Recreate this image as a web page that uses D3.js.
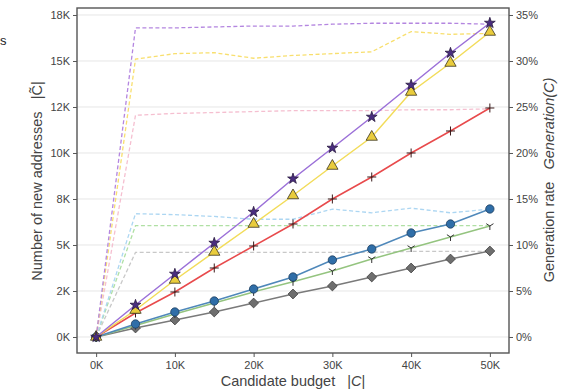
<!DOCTYPE html>
<html>
<head>
<meta charset="utf-8">
<script src="https://cdn.jsdelivr.net/npm/d3@7"></script>
<style>
  html, body { margin: 0; padding: 0; background: #fff; }
  svg { display: block; font-family: "Liberation Sans", Arial, sans-serif; }
</style>
</head>
<body>
<svg id="chart" width="569" height="391"></svg>
<script>
// ---------- data ----------
const budgets = [0, 5000, 10000, 15000, 20000, 25000, 30000, 35000, 40000, 45000, 50000];
const xTickValues = [0, 10000, 20000, 30000, 40000, 50000];
const xTickLabels = ["0K", "10K", "20K", "30K", "40K", "50K"];
const yTickValues = [0, 2500, 5000, 7500, 10000, 12500, 15000, 17500];
const yTickLabels = ["0K", "2K", "5K", "8K", "10K", "12K", "15K", "18K"];
const rTickValues = [0, 5, 10, 15, 20, 25, 30, 35];
const rTickLabels = ["0%", "5%", "10%", "15%", "20%", "25%", "30%", "35%"];

// new addresses (left axis)
const purpleNew = [0, 1739, 3424, 5109, 6794, 8600, 10272, 11957, 13696, 15435, 17065];
const yellowNew = [0, 1467, 3098, 4620, 6141, 7690, 9293, 10870, 13315, 14891, 16576];
const redNew    = [0, 1304, 2446, 3750, 4946, 6141, 7500, 8696, 10000, 11196, 12446];
const blueNew   = [0, 707, 1359, 1957, 2609, 3261, 4185, 4783, 5652, 6141, 6957];
const greenNew  = [0, 620, 1250, 1850, 2450, 3000, 3587, 4239, 4837, 5435, 6033];
const grayNew   = [0, 489, 924, 1359, 1848, 2337, 2772, 3261, 3750, 4239, 4674];

// generation rate % (right axis)
const purpleRate = [0, 33.6, 33.6, 33.7, 33.8, 33.8, 34.0, 34.1, 34.1, 34.1, 34.0];
const yellowRate = [0, 30.2, 30.8, 30.9, 30.3, 30.6, 30.8, 31.0, 33.2, 32.9, 33.0];
const pinkRate   = [0, 24.1, 24.3, 24.4, 24.5, 24.6, 24.6, 24.6, 24.7, 24.7, 24.8];
const lblueRate  = [0, 13.4, 13.3, 13.1, 12.8, 12.8, 13.9, 13.5, 14.0, 13.5, 13.9];
const lgreenRate = [0, 12.1, 12.1, 12.1, 12.1, 12.1, 12.1, 12.1, 12.1, 12.1, 12.1];
const lgrayRate  = [0, 9.2, 9.2, 9.2, 9.2, 9.2, 9.2, 9.2, 9.3, 9.3, 9.3];

// ---------- layout ----------
const svg = d3.select("#chart");
const pLeft = 77, pRight = 509, pTop = 8, pBottom = 353;
const yMin = -870, yMax = 17880;

const x = d3.scaleLinear().domain([-2430, 52430]).range([pLeft, pRight]);
const y = d3.scaleLinear().domain([yMin, yMax]).range([pBottom, pTop]);
const yR = d3.scaleLinear().domain([yMin / 500, yMax / 500]).range([pBottom, pTop]);

const textColor = "#444";
const frameColor = "#555";

// stray text at the far left
svg.append("text").attr("x", 0).attr("y", 45).attr("font-size", 13).attr("fill", "#222").text("s");

// grid
svg.append("g").selectAll("line").data(yTickValues).join("line")
  .attr("x1", pLeft).attr("x2", pRight)
  .attr("y1", d => y(d)).attr("y2", d => y(d))
  .attr("stroke", "#e6e6e6").attr("stroke-width", 1);

// axes
const fmtIdx = (vals, labels) => (d) => labels[vals.indexOf(d)];
const gL = svg.append("g").attr("transform", `translate(${pLeft},0)`)
  .call(d3.axisLeft(y).tickValues(yTickValues).tickFormat(fmtIdx(yTickValues, yTickLabels)).tickSize(4).tickPadding(3));
const gR = svg.append("g").attr("transform", `translate(${pRight},0)`)
  .call(d3.axisRight(yR).tickValues(rTickValues).tickFormat(fmtIdx(rTickValues, rTickLabels)).tickSize(4).tickPadding(3));
const gB = svg.append("g").attr("transform", `translate(0,${pBottom})`)
  .call(d3.axisBottom(x).tickValues(xTickValues).tickFormat(fmtIdx(xTickValues, xTickLabels)).tickSize(4).tickPadding(4));
[gL, gR, gB].forEach(g => {
  g.select(".domain").remove();
  g.selectAll(".tick line").attr("stroke", frameColor);
  g.selectAll(".tick text").attr("fill", textColor).attr("font-size", 11).attr("font-family", "Liberation Sans, Arial, sans-serif");
});

// frame
svg.append("rect").attr("x", pLeft).attr("y", pTop).attr("width", pRight - pLeft).attr("height", pBottom - pTop)
  .attr("fill", "none").attr("stroke", frameColor).attr("stroke-width", 1.4);

// dashed rate lines
const lineR = d3.line().x((d, i) => x(budgets[i])).y(d => yR(d));
const dashed = [
  { data: lgrayRate, color: "#c8c8c8" },
  { data: lgreenRate, color: "#b0e0a4" },
  { data: lblueRate, color: "#acd6f2" },
  { data: pinkRate, color: "#f5bfd0" },
  { data: yellowRate, color: "#f8df6e" },
  { data: purpleRate, color: "#b486e0" }
];
svg.append("g").selectAll("path").data(dashed).join("path")
  .attr("d", d => lineR(d.data)).attr("fill", "none")
  .attr("stroke", d => d.color).attr("stroke-width", 1.3).attr("stroke-dasharray", "4,2.5");

// solid count lines
const lineL = d3.line().x((d, i) => x(budgets[i])).y(d => y(d));
const plusPath = "M-4.5,0L4.5,0M0,-4.5L0,4.5";
const triYPath = "M0,0L0,4M0,0L-3.6,-2.3M0,0L3.6,-2.3";
const series = [
  { data: grayNew, line: "#7a7a7a", marker: d3.symbol(d3.symbolSquare, 48)(), rot: 45, fill: "#6e6e6e", edge: "#444" },
  { data: greenNew, line: "#94c47f", marker: triYPath, rot: 0, fill: "none", edge: "#333", open: true },
  { data: blueNew, line: "#4f88ba", marker: d3.symbol(d3.symbolCircle, 55)(), rot: 0, fill: "#2f6ea8", edge: "#1f3f60" },
  { data: redNew, line: "#e84a4c", marker: plusPath, rot: 0, fill: "none", edge: "#3a1a1a", open: true },
  { data: yellowNew, line: "#f2dc5a", marker: d3.symbol(d3.symbolTriangle, 55)(), rot: 0, fill: "#e9cc3c", edge: "#3a3320" },
  { data: purpleNew, line: "#9b70d8", marker: d3.symbol(d3.symbolStar, 36)(), rot: 0, fill: "#4a2d80", edge: "#2a1a40" }
];
series.forEach(s => {
  const g = svg.append("g");
  g.append("path").attr("d", lineL(s.data)).attr("fill", "none").attr("stroke", s.line).attr("stroke-width", 1.5);
  g.selectAll("path.m").data(s.data).join("path").attr("class", "m")
    .attr("transform", (d, i) => `translate(${x(budgets[i])},${y(d)}) rotate(${s.rot})`)
    .attr("d", s.marker)
    .attr("fill", s.fill).attr("stroke", s.edge).attr("stroke-width", s.open ? 1 : 0.8);
});

// axis labels
svg.append("text").attr("x", 293).attr("y", 386).attr("text-anchor", "middle")
  .attr("font-size", 14.5).attr("fill", textColor)
  .attr("xml:space", "preserve")
  .call(t => { t.append("tspan").text("Candidate budget   |"); t.append("tspan").attr("font-style", "italic").text("C"); t.append("tspan").text("|"); });

svg.append("text").attr("transform", "translate(42,181) rotate(-90)").attr("text-anchor", "middle")
  .attr("font-size", 14.5).attr("fill", textColor)
  .attr("xml:space", "preserve")
  .text("Number of new addresses   |C\u0303|");

svg.append("text").attr("transform", "translate(554,180) rotate(-90)").attr("text-anchor", "middle")
  .attr("font-size", 14.5).attr("fill", textColor)
  .attr("xml:space", "preserve")
  .call(t => { t.append("tspan").text("Generation rate   "); t.append("tspan").attr("font-style", "italic").text("Generation(C)"); });
</script>
</body>
</html>
